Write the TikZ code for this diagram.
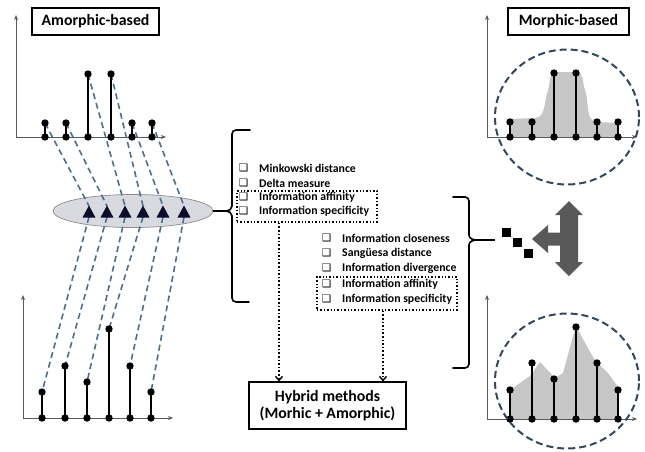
\documentclass[tikz,border=0pt]{standalone}
\usepackage{fontspec}
\setmainfont{Carlito}
\newfontfamily\symfont{DejaVu Sans}
\usetikzlibrary{arrows.meta,shapes.geometric}
\definecolor{dashblue}{HTML}{4D6E91}
\definecolor{circblue}{HTML}{34475F}
\definecolor{arrowgray}{HTML}{595959}
\definecolor{fillgray}{HTML}{C6C6C6}
\definecolor{ellfill}{HTML}{D9DAE0}
\definecolor{trifill}{HTML}{0D0D2B}
\begin{document}
\begin{tikzpicture}[x=1pt,y=-1pt,
  axis/.style={draw=black!65, line width=0.8, -{Stealth[length=5,width=4]}},
  stemline/.style={line width=2.2},
  conn/.style={draw=dashblue, line width=1.6, dash pattern=on 6 off 4},
  circ/.style={draw=circblue, line width=2, dash pattern=on 7 off 4},
  item/.style={font=\bfseries\fontsize{11.8}{13}\selectfont, anchor=west, inner sep=0},
  chk/.style={font=\symfont\fontsize{10.5}{11}\selectfont, inner sep=0},
  titlebox/.style={draw, line width=1.2, font=\bfseries\fontsize{15.8}{17.5}\selectfont, inner sep=0, align=center},
  dotbox/.style={draw, line width=1.4, dotted, minimum width=140, inner sep=0},
  brace/.style={line width=1.6, line cap=round},
  darr/.style={line width=1.6, dotted, -{Straight Barb[length=4,width=7,line width=1.4]}},
]
\useasboundingbox (0,0) rectangle (645,451);

% ---------- Titles ----------
\node[titlebox, minimum width=127, minimum height=27] (amor) at (95.5,21.5) {Amorphic-based};
\node[titlebox, minimum width=121, minimum height=27] (mor) at (568.5,21.5) {Morphic-based};

% ---------- ellipse with triangles ----------
\node[ellipse, draw=black!45, fill=ellfill, line width=0.7, minimum width=160, minimum height=33, inner sep=0] (ell) at (133,211) {};

% ---------- upper-left plot ----------
\draw[axis] (16,137) -- (16,15);
\draw[axis] (16,137) -- (166,137);
\foreach \x/\h [count=\i] in {45/123,66/123,88/74,111/74,132/123,152/123}{
  \coordinate (u\i) at (\x,\h);
}
% ---------- lower-left plot ----------
\draw[axis] (23,418) -- (23,295);
\draw[axis] (23,418) -- (173,418);
\foreach \x/\h [count=\i] in {42/392,65/366,87/382,109/329,130/366,151/392}{
  \coordinate (l\i) at (\x,\h);
}
% ---------- triangles and dashed connectors ----------
\foreach \x [count=\i] in {89,107,125,143,163,184}{
  \coordinate (t\i) at (\x,206);
  \coordinate (b\i) at (\x,217);
  \draw[conn] (u\i) -- (t\i);
  \draw[conn] (b\i) -- (l\i);
}
\foreach \x in {89,107,125,143,163,184}{
  \fill[trifill] (\x-6.5,217.5) -- (\x+6.5,217.5) -- (\x,205.5) -- cycle;
}
\foreach \x/\h in {45/123,66/123,88/74,111/74,132/123,152/123}{
  \draw[stemline] (\x,137) -- (\x,\h);
  \fill (\x,137) circle (3.7);
  \fill (\x,\h) circle (3.7);
}
\foreach \x/\h in {42/392,65/366,87/382,109/329,130/366,151/392}{
  \draw[stemline] (\x,418) -- (\x,\h);
  \fill (\x,418) circle (3.7);
  \fill (\x,\h) circle (3.7);
}

% ---------- upper-right plot ----------
\fill[fillgray] (510,137) -- (510,119) -- (534,118) to[out=0,in=-110] (548,90)
  to[out=70,in=180] (556,72) -- (576,72) to[out=0,in=110] (585,90)
  to[out=-70,in=180] (598,122) -- (618,123) -- (618,137) -- cycle;
\draw[axis] (487,137) -- (487,15);
\draw[axis] (487,137) -- (637,137);
\foreach \x/\h in {510/122,532/122,554/73,576/73,597/122,618/122}{
  \draw[stemline] (\x,137) -- (\x,\h);
  \fill (\x,137) circle (3.7);
  \fill (\x,\h) circle (3.7);
}
\node[ellipse, circ, minimum width=144, minimum height=135, inner sep=0] (c1) at (567,117) {};

% ---------- lower-right plot ----------
\fill[fillgray] (510,419) -- (510,390) -- (530,376) -- (540,362) -- (555,378)
  -- (563,373) -- (572,340) -- (576,326) -- (584,341) -- (593,357) -- (598,363)
  -- (608,373) -- (618,387) -- (618,419) -- cycle;
\draw[axis] (487,419) -- (487,295);
\draw[axis] (487,419) -- (637,419);
\foreach \x/\h in {510/390,532/363,554/379,576/327,597/363,618/390}{
  \draw[stemline] (\x,419) -- (\x,\h);
  \fill (\x,419) circle (3.7);
  \fill (\x,\h) circle (3.7);
}
\node[ellipse, circ, minimum width=144, minimum height=135, inner sep=0] (c2) at (567,381) {};

% ---------- left brace ----------
\coordinate (lbtip) at (226,211);
\draw[brace] (250,130) -- (236,130) to[out=180,in=90] (232,134) -- (232,206)
  to[out=-90,in=0] (lbtip) to[out=0,in=90] (232,216) -- (232,298)
  to[out=-90,in=180] (236,302) -- (249,302);
\draw[line width=1.6] (ell.east) -- (lbtip);

% ---------- first list ----------
\foreach \t/\y [count=\i] in {Minkowski distance/168, Delta measure/183, Information affinity/197, Information specificity/211}{
  \node[chk] (ca\i) at (243.5,\y) {❑};
  \node[item] (ia\i) at (259,\y) {\t};
}
\node[dotbox, minimum height=31] (box1) at (307,206.5) {};

% ---------- second list ----------
\foreach \t/\y [count=\i] in {Information closeness/238, Sangüesa distance/253, Information divergence/268, Information affinity/284, Information specificity/299}{
  \node[chk] (cb\i) at (326.5,\y) {❑};
  \node[item] (ib\i) at (342,\y) {\t};
}
\node[dotbox, minimum height=33] (box2) at (387,293.5) {};

% ---------- right brace ----------
\coordinate (rbtip) at (477,240);
\coordinate (rbend) at (495,240);
\draw[brace] (453,197) -- (465,197) to[out=0,in=90] (469,201) -- (469,235)
  to[out=-90,in=180] (rbtip) to[out=180,in=90] (469,245) -- (469,364)
  to[out=-90,in=0] (465,368) -- (453,368);
\draw[line width=1.6] (rbtip) -- (rbend);

% ---------- squares and T-arrow ----------
\fill (502,228) rectangle (511,237);
\fill (513,238) rectangle (522,247);
\fill (524,249) rectangle (533,258);
\fill[arrowgray] (569,201) -- (583,215) -- (578,215) -- (578,262) -- (583,262)
  -- (569,276) -- (555,262) -- (560,262) -- (560,245.5) -- (548,245.5) -- (548,253)
  -- (532,239) -- (548,225) -- (548,232.5) -- (560,232.5) -- (560,215) -- (555,215) -- cycle;

% ---------- hybrid box ----------
\node[titlebox, minimum width=157, minimum height=47] (hyb) at (327.5,405.5) {Hybrid methods\\(Morhic + Amorphic)};
\coordinate (x1) at (279,0);
\coordinate (x2) at (383,0);
\draw[darr] (box1.south -| x1) -- (hyb.north -| x1);
\draw[darr] (box2.south -| x2) -- (hyb.north -| x2);
\end{tikzpicture}
\end{document}
